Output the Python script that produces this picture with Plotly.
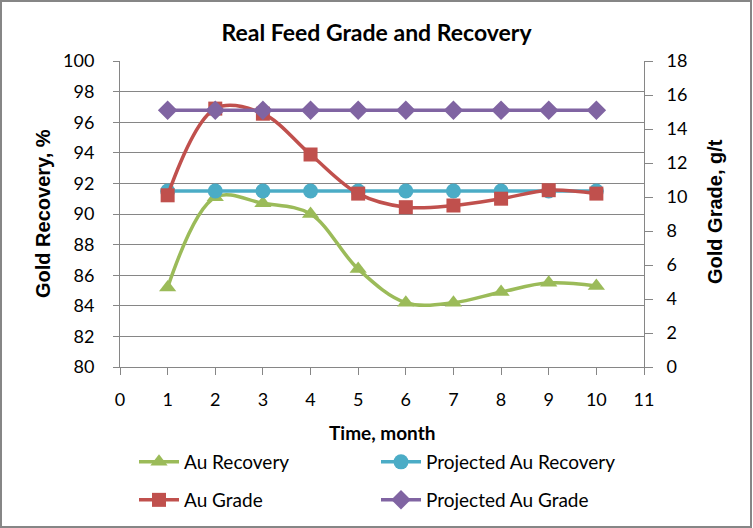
import plotly.graph_objects as go

months = [1, 2, 3, 4, 5, 6, 7, 8, 9, 10]
au_recovery = [85.2, 91.1, 90.7, 90.0, 86.4, 84.2, 84.2, 84.9, 85.5, 85.3]
projected_recovery = [91.5] * 10
au_grade = [10.1, 15.2, 14.9, 12.5, 10.2, 9.4, 9.5, 9.9, 10.4, 10.2]
projected_grade = [15.1] * 10

x_ticks = list(range(0, 12))
y_left_ticks = list(range(80, 101, 2))
y_right_ticks = list(range(0, 19, 2))

W, H = 753, 528
L, R, T, B = 120, 644, 61, 367


def px(x):
    return (x - L) / (R - L)


def py(y):
    return (B - y) / (B - T)


GREEN = "#9BBB59"
CYAN = "#4BACC6"
RED = "#C0504D"
PURPLE = "#8064A2"
GRID = "#868686"
FONT = "Lato"

fig = go.Figure()
fig.add_trace(go.Scatter(
    x=months, y=au_recovery, name="Au Recovery", mode="lines+markers",
    line=dict(color=GREEN, width=3.5, shape="spline", smoothing=1),
    marker=dict(symbol="triangle-up", size=15, color=GREEN),
    legend="legend", yaxis="y"))
fig.add_trace(go.Scatter(
    x=months, y=projected_recovery, name="Projected Au Recovery", mode="lines+markers",
    line=dict(color=CYAN, width=3.5),
    marker=dict(symbol="circle", size=15, color=CYAN),
    legend="legend2", yaxis="y"))
fig.add_trace(go.Scatter(
    x=months, y=au_grade, name="Au Grade", mode="lines+markers",
    line=dict(color=RED, width=3.5, shape="spline", smoothing=1),
    marker=dict(symbol="square", size=14, color=RED),
    legend="legend3", yaxis="y2"))
fig.add_trace(go.Scatter(
    x=months, y=projected_grade, name="Projected Au Grade", mode="lines+markers",
    line=dict(color=PURPLE, width=3.5),
    marker=dict(symbol="diamond", size=15, color=PURPLE),
    legend="legend4", yaxis="y2"))

tickfont = dict(family=FONT, size=18, color="#000000")


def leg(xp, yp):
    return dict(orientation="h", x=px(xp), xanchor="left", y=py(yp), yanchor="middle",
                itemwidth=40, font=dict(family=FONT, size=19, color="#000000"),
                bgcolor="rgba(0,0,0,0)")


fig.update_layout(
    width=W, height=H,
    margin=dict(l=L, r=W - R, t=T, b=H - B, autoexpand=False),
    paper_bgcolor="white", plot_bgcolor="white",
    title=dict(text="<b>Real Feed Grade and Recovery</b>", x=0.5, xanchor="center",
               y=1 - 33 / H, yanchor="middle",
               font=dict(family=FONT, size=23, color="#000000")),
    xaxis=dict(range=[0, 11], tickvals=x_ticks, ticktext=[str(v) for v in x_ticks],
               showgrid=False, zeroline=False, showline=True, linecolor=GRID, linewidth=1,
               ticks="outside", ticklen=7, tickcolor=GRID, tickfont=tickfont,
               ticklabelstandoff=9),
    yaxis=dict(range=[80, 100], tickvals=y_left_ticks, ticktext=[str(v) for v in y_left_ticks],
               showgrid=True, gridcolor=GRID, gridwidth=1, zeroline=False,
               showline=True, linecolor=GRID, linewidth=1,
               ticks="outside", ticklen=6, tickcolor=GRID, tickfont=tickfont,
               ticklabelstandoff=15),
    yaxis2=dict(range=[0, 18], tickvals=y_right_ticks, ticktext=[str(v) for v in y_right_ticks],
                overlaying="y", side="right", showgrid=False, zeroline=False,
                showline=True, linecolor=GRID, linewidth=1,
                ticks="outside", ticklen=8, tickcolor=GRID, tickfont=tickfont,
                ticklabelstandoff=10),
    legend=leg(134, 462),
    legend2=leg(376, 462),
    legend3=leg(134, 500),
    legend4=leg(376, 500),
    showlegend=True,
)

fig.add_annotation(text="<b>Gold Recovery, %</b>", xref="paper", yref="paper",
                   x=px(43), y=py(214), xanchor="center", yanchor="middle",
                   textangle=-90, showarrow=False,
                   font=dict(family="Liberation Sans", size=20, color="#000000"))
fig.add_annotation(text="<b>Gold Grade, g/t</b>", xref="paper", yref="paper",
                   x=px(715), y=py(212), xanchor="center", yanchor="middle",
                   textangle=-90, showarrow=False,
                   font=dict(family="Liberation Sans", size=20, color="#000000"))
fig.add_annotation(text="<b>Time, month</b>", xref="paper", yref="paper",
                   x=px(382), y=py(432), xanchor="center", yanchor="middle",
                   showarrow=False,
                   font=dict(family=FONT, size=19, color="#000000"))

fig.add_shape(type="rect", xref="paper", yref="paper",
              x0=px(1), x1=px(751), y0=py(527), y1=py(1),
              line=dict(color=GRID, width=2), fillcolor="rgba(0,0,0,0)", layer="below")

fig.write_html("out.html", config={"displayModeBar": False},
               post_script="document.body.style.margin='0';document.body.style.overflow='hidden';")
